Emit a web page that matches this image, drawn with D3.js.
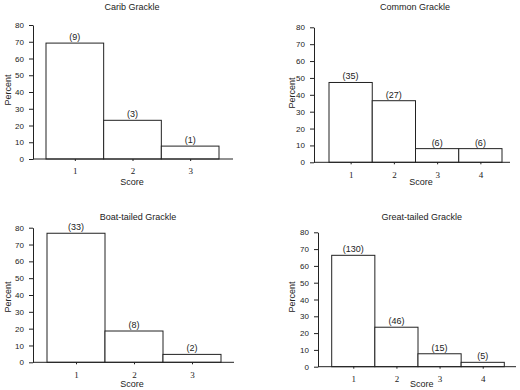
<!DOCTYPE html>
<html>
<head>
<meta charset="utf-8">
<script src="https://cdn.jsdelivr.net/npm/d3@7"></script>
<style>
  html, body { margin: 0; padding: 0; background: #fff; }
  svg { display: block; }
  text { font-family: "Liberation Sans", Arial, sans-serif; fill: #222; }
  .xt text { font-family: "Liberation Serif", "Times New Roman", serif; }
</style>
</head>
<body>
<svg id="chart" width="520" height="390"></svg>
<script>
// ---- data ----
const titles = ["Carib Grackle", "Common Grackle", "Boat-tailed Grackle", "Great-tailed Grackle"];
const caribScores = [1, 2, 3];
const caribPercent = [69.2, 23.1, 7.7];
const caribCounts = ["(9)", "(3)", "(1)"];
const commonScores = [1, 2, 3, 4];
const commonPercent = [47.3, 36.5, 8.1, 8.1];
const commonCounts = ["(35)", "(27)", "(6)", "(6)"];
const boatScores = [1, 2, 3];
const boatPercent = [76.7, 18.6, 4.7];
const boatCounts = ["(33)", "(8)", "(2)"];
const greatScores = [1, 2, 3, 4];
const greatPercent = [66.3, 23.5, 7.7, 2.6];
const greatCounts = ["(130)", "(46)", "(15)", "(5)"];
const yTicks = [0, 10, 20, 30, 40, 50, 60, 70, 80];
const xLabel = "Score";
const yLabel = "Percent";

// ---- layout (positions only) ----
const panels = [
  { title: titles[0], scores: caribScores, pct: caribPercent, counts: caribCounts,
    axX: 33, y80: 25, y0: 159, b0: 46, b1: 219, xEnd: 233,
    tx: 132, ty: 10, sx: 132, sy: 185, px: 11, py: 90 },
  { title: titles[1], scores: commonScores, pct: commonPercent, counts: commonCounts,
    axX: 314, y80: 27.3, y0: 162.3, b0: 329, b1: 502, xEnd: 510,
    tx: 415, ty: 10, sx: 421, sy: 185, px: 295, py: 93 },
  { title: titles[2], scores: boatScores, pct: boatPercent, counts: boatCounts,
    axX: 33, y80: 227.7, y0: 362.3, b0: 47, b1: 221, xEnd: 234,
    tx: 138, ty: 220, sx: 132, sy: 386.5, px: 11, py: 297 },
  { title: titles[3], scores: greatScores, pct: greatPercent, counts: greatCounts,
    axX: 318, y80: 232.3, y0: 366.7, b0: 331.7, b1: 504.3, xEnd: 516,
    tx: 421.7, ty: 220, sx: 421.7, sy: 387, px: 295, py: 297 }
];

const svg = d3.select("#chart");
const ink = "#222";

panels.forEach(p => {
  const g = svg.append("g");
  const n = p.scores.length;
  const x = d3.scaleLinear().domain([0.5, n + 0.5]).range([p.b0, p.b1]);
  const y = d3.scaleLinear().domain([0, 80]).range([p.y0, p.y80]);
  const w = x(1.5) - x(0.5);

  // bars
  g.selectAll("rect.bar").data(p.pct).enter().append("rect")
    .attr("x", (d, i) => x(p.scores[i] - 0.5))
    .attr("y", d => y(d))
    .attr("width", w)
    .attr("height", d => y(0) - y(d))
    .attr("fill", "#fff")
    .attr("stroke", ink)
    .attr("stroke-width", 1);

  // count labels
  g.selectAll("text.cnt").data(p.counts).enter().append("text")
    .attr("x", (d, i) => x(p.scores[i]))
    .attr("y", (d, i) => y(p.pct[i]) - 3)
    .attr("text-anchor", "middle")
    .attr("font-size", 9)
    .text(d => d);

  // y axis
  const ya = g.append("g").attr("transform", `translate(${p.axX},0)`)
    .call(d3.axisLeft(y).tickValues(yTicks).tickSize(4).tickSizeOuter(0).tickPadding(5));
  ya.selectAll("text").attr("font-size", 8).attr("fill", ink).style("font-family", '"Liberation Sans", Arial, sans-serif');
  ya.selectAll("line,path").attr("stroke", ink);

  // x axis baseline
  g.append("line")
    .attr("x1", p.axX).attr("x2", p.xEnd)
    .attr("y1", y(0)).attr("y2", y(0))
    .attr("stroke", ink).attr("stroke-width", 1);
  const xa = g.append("g").attr("class", "xt").attr("transform", `translate(0,${y(0)})`)
    .call(d3.axisBottom(x).tickValues(p.scores).tickFormat(d3.format("d")).tickSize(2).tickSizeOuter(0).tickPadding(7));
  xa.select("path.domain").remove();
  xa.selectAll("text").attr("font-size", 9).attr("fill", ink);
  xa.selectAll("line").attr("stroke", ink);

  // titles and labels
  g.append("text").attr("x", p.tx).attr("y", p.ty).attr("text-anchor", "middle")
    .attr("font-size", 9).text(p.title);
  g.append("text").attr("x", p.sx).attr("y", p.sy).attr("text-anchor", "middle")
    .attr("font-size", 9).text(xLabel);
  g.append("text").attr("transform", `translate(${p.px},${p.py}) rotate(-90)`)
    .attr("text-anchor", "middle").attr("font-size", 9).text(yLabel);
});
</script>
</body>
</html>
